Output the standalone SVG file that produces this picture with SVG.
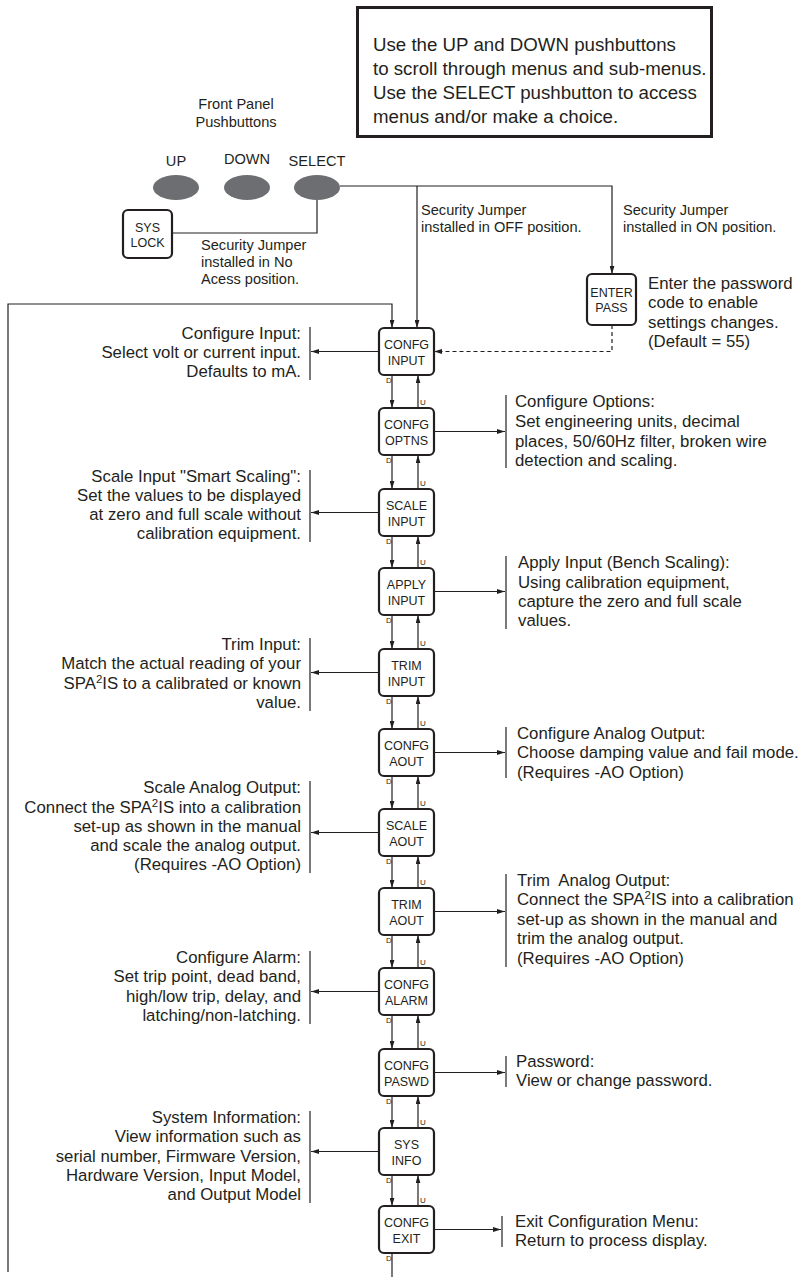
<svg xmlns="http://www.w3.org/2000/svg" width="801" height="1277" viewBox="0 0 801 1277">
<defs>
<marker id="ah" viewBox="0 0 10 6" refX="10" refY="3" markerWidth="8" markerHeight="5" orient="auto" markerUnits="userSpaceOnUse"><path d="M0,0 L10,3 L0,6 z" fill="#231f20"/></marker>
<style>
text{font-family:"Liberation Sans",Arial,sans-serif;fill:#231f20}
.t{font-size:16.8px}
.j{font-size:14.6px}
.n{font-size:12.5px;text-anchor:middle}
.du{font-size:8px}
.big{font-size:18.7px}
.l{text-anchor:end}
.box{fill:#fff;stroke:#231f20;stroke-width:2.2}
.c{fill:none;stroke:#231f20;stroke-width:1.2}
.ca{fill:none;stroke:#231f20;stroke-width:1.2;marker-end:url(#ah)}
.bar{stroke:#231f20;stroke-width:1.2}
.btn{fill:#6d6e71}
</style>
</defs>
<rect x="0" y="0" width="801" height="1277" fill="#fff"/>

<g id="instructions">
<rect x="357.5" y="7.5" width="354" height="129" fill="#fff" stroke="#231f20" stroke-width="3"/>
<text class="big" x="373" y="51">Use the UP and DOWN pushbuttons</text>
<text class="big" x="373" y="75">to scroll through menus and sub-menus.</text>
<text class="big" x="373" y="99">Use the SELECT pushbutton to access</text>
<text class="big" x="373" y="123">menus and/or make a choice.</text>
</g>

<g id="front-panel-label">
<text class="j" x="236" y="109" text-anchor="middle">Front Panel</text>
<text class="j" x="236" y="127" text-anchor="middle">Pushbuttons</text>
</g>

<g id="btn-up"><text class="j" x="176" y="166" text-anchor="middle">UP</text><ellipse class="btn" cx="176" cy="187.5" rx="23" ry="12.5"/></g>
<g id="btn-down"><text class="j" x="247" y="164" text-anchor="middle">DOWN</text><ellipse class="btn" cx="247" cy="187.5" rx="23" ry="12.5"/></g>
<g id="btn-select"><text class="j" x="317" y="166" text-anchor="middle">SELECT</text><ellipse class="btn" cx="317" cy="187.5" rx="23" ry="12.5"/></g>

<g id="connectors">
<path class="c" d="M317,200 V233 H172"/>
<path class="c" d="M340,186 H612 V274" marker-end="url(#ah)"/>
<path class="ca" d="M417,186 V328"/>
<path class="ca" d="M8,1272 V304 H392 V328"/>
<path class="ca" d="M612,325 V351.5 H434" stroke-dasharray="4,3"/>
<!-- down arrows -->
<path class="ca" d="M392,375 V408"/>
<path class="ca" d="M392,455 V489"/>
<path class="ca" d="M392,536 V568"/>
<path class="ca" d="M392,615 V649"/>
<path class="ca" d="M392,696 V729"/>
<path class="ca" d="M392,776 V809"/>
<path class="ca" d="M392,856 V888"/>
<path class="ca" d="M392,935 V968"/>
<path class="ca" d="M392,1015 V1049"/>
<path class="ca" d="M392,1096 V1128"/>
<path class="ca" d="M392,1175 V1206"/>
<path class="c" d="M392,1253 V1277"/>
<!-- up arrows -->
<path class="ca" d="M418,408 V375"/>
<path class="ca" d="M418,489 V455"/>
<path class="ca" d="M418,568 V536"/>
<path class="ca" d="M418,649 V615"/>
<path class="ca" d="M418,729 V696"/>
<path class="ca" d="M418,809 V776"/>
<path class="ca" d="M418,888 V856"/>
<path class="ca" d="M418,968 V935"/>
<path class="ca" d="M418,1049 V1015"/>
<path class="ca" d="M418,1128 V1096"/>
<path class="ca" d="M418,1206 V1175"/>
<!-- left descriptions -->
<path class="ca" d="M379,351.5 H311"/>
<path class="ca" d="M379,512.5 H311"/>
<path class="ca" d="M379,672.5 H311"/>
<path class="ca" d="M379,832.5 H311"/>
<path class="ca" d="M379,991.5 H311"/>
<path class="ca" d="M379,1151.5 H311"/>
<!-- right descriptions -->
<path class="ca" d="M434,431.5 H505"/>
<path class="ca" d="M434,591.5 H505"/>
<path class="ca" d="M434,752.5 H505"/>
<path class="ca" d="M434,911.5 H505"/>
<path class="ca" d="M434,1072.5 H505"/>
<path class="ca" d="M434,1229.5 H501"/>
<!-- D / U labels -->
<g class="du">
<text class="du" x="386" y="383">D</text><text class="du" x="420" y="405">U</text>
<text class="du" x="386" y="463">D</text><text class="du" x="420" y="486">U</text>
<text class="du" x="386" y="544">D</text><text class="du" x="420" y="565">U</text>
<text class="du" x="386" y="623">D</text><text class="du" x="420" y="646">U</text>
<text class="du" x="386" y="704">D</text><text class="du" x="420" y="726">U</text>
<text class="du" x="386" y="784">D</text><text class="du" x="420" y="806">U</text>
<text class="du" x="386" y="864">D</text><text class="du" x="420" y="885">U</text>
<text class="du" x="386" y="943">D</text><text class="du" x="420" y="965">U</text>
<text class="du" x="386" y="1023">D</text><text class="du" x="420" y="1046">U</text>
<text class="du" x="386" y="1104">D</text><text class="du" x="420" y="1125">U</text>
<text class="du" x="386" y="1183">D</text><text class="du" x="420" y="1203">U</text>
<text class="du" x="386" y="1261">D</text>
</g>
</g>

<g id="jumper-labels">
<text class="j" x="201" y="250">Security Jumper</text>
<text class="j" x="201" y="267">installed in No</text>
<text class="j" x="201" y="284">Acess position.</text>
<text class="j" x="421" y="215">Security Jumper</text>
<text class="j" x="421" y="232">installed in OFF position.</text>
<text class="j" x="623" y="215">Security Jumper</text>
<text class="j" x="623" y="232">installed in ON position.</text>
</g>

<g id="sys-lock"><rect class="box" x="123" y="210" width="49" height="48" rx="5"/><text class="n" x="147.5" y="232">SYS</text><text class="n" x="147.5" y="247">LOCK</text></g>
<g id="enter-pass"><rect class="box" x="587" y="274" width="49" height="51" rx="5"/><text class="n" x="611.5" y="297">ENTER</text><text class="n" x="611.5" y="312">PASS</text></g>
<g id="enter-pass-note">
<text class="t" x="648" y="289">Enter the password</text>
<text class="t" x="648" y="308">code to enable</text>
<text class="t" x="648" y="328">settings changes.</text>
<text class="t" x="648" y="347">(Default = 55)</text>
</g>

<g id="confg-input"><rect class="box" x="379" y="328" width="55" height="47" rx="5"/><text class="n" x="406.5" y="349">CONFG</text><text class="n" x="406.5" y="365">INPUT</text></g>
<g id="confg-optns"><rect class="box" x="379" y="408" width="55" height="47" rx="5"/><text class="n" x="406.5" y="429">CONFG</text><text class="n" x="406.5" y="445">OPTNS</text></g>
<g id="scale-input"><rect class="box" x="379" y="489" width="55" height="47" rx="5"/><text class="n" x="406.5" y="510">SCALE</text><text class="n" x="406.5" y="526">INPUT</text></g>
<g id="apply-input"><rect class="box" x="379" y="568" width="55" height="47" rx="5"/><text class="n" x="406.5" y="589">APPLY</text><text class="n" x="406.5" y="605">INPUT</text></g>
<g id="trim-input"><rect class="box" x="379" y="649" width="55" height="47" rx="5"/><text class="n" x="406.5" y="670">TRIM</text><text class="n" x="406.5" y="686">INPUT</text></g>
<g id="confg-aout"><rect class="box" x="379" y="729" width="55" height="47" rx="5"/><text class="n" x="406.5" y="750">CONFG</text><text class="n" x="406.5" y="766">AOUT</text></g>
<g id="scale-aout"><rect class="box" x="379" y="809" width="55" height="47" rx="5"/><text class="n" x="406.5" y="830">SCALE</text><text class="n" x="406.5" y="846">AOUT</text></g>
<g id="trim-aout"><rect class="box" x="379" y="888" width="55" height="47" rx="5"/><text class="n" x="406.5" y="909">TRIM</text><text class="n" x="406.5" y="925">AOUT</text></g>
<g id="confg-alarm"><rect class="box" x="379" y="968" width="55" height="47" rx="5"/><text class="n" x="406.5" y="989">CONFG</text><text class="n" x="406.5" y="1005">ALARM</text></g>
<g id="confg-paswd"><rect class="box" x="379" y="1049" width="55" height="47" rx="5"/><text class="n" x="406.5" y="1070">CONFG</text><text class="n" x="406.5" y="1086">PASWD</text></g>
<g id="sys-info"><rect class="box" x="379" y="1128" width="55" height="47" rx="5"/><text class="n" x="406.5" y="1149">SYS</text><text class="n" x="406.5" y="1165">INFO</text></g>
<g id="confg-exit"><rect class="box" x="379" y="1206" width="55" height="47" rx="5"/><text class="n" x="406.5" y="1227">CONFG</text><text class="n" x="406.5" y="1243">EXIT</text></g>

<g id="desc-configure-input">
<line class="bar" x1="310" y1="327" x2="310" y2="380"/>
<text class="t l" x="301" y="339">Configure Input:</text>
<text class="t l" x="301" y="358">Select volt or current input.</text>
<text class="t l" x="301" y="377">Defaults to mA.</text>
</g>
<g id="desc-scale-input">
<line class="bar" x1="310" y1="470" x2="310" y2="542"/>
<text class="t l" x="301" y="482">Scale Input "Smart Scaling":</text>
<text class="t l" x="301" y="501">Set the values to be displayed</text>
<text class="t l" x="301" y="520">at zero and full scale without</text>
<text class="t l" x="301" y="539">calibration equipment.</text>
</g>
<g id="desc-trim-input">
<line class="bar" x1="310" y1="638" x2="310" y2="711"/>
<text class="t l" x="301" y="650">Trim Input:</text>
<text class="t l" x="301" y="669">Match the actual reading of your</text>
<text class="t l" x="301" y="689">SPA<tspan font-size="11.5" dy="-6">2</tspan><tspan dy="6">IS to a calibrated or known</tspan></text>
<text class="t l" x="301" y="708">value.</text>
</g>
<g id="desc-scale-aout">
<line class="bar" x1="310" y1="781" x2="310" y2="873"/>
<text class="t l" x="301" y="793">Scale Analog Output:</text>
<text class="t l" x="301" y="813">Connect the SPA<tspan font-size="11.5" dy="-6">2</tspan><tspan dy="6">IS into a calibration</tspan></text>
<text class="t l" x="301" y="832">set-up as shown in the manual</text>
<text class="t l" x="301" y="851">and scale the analog output.</text>
<text class="t l" x="301" y="870">(Requires -AO Option)</text>
</g>
<g id="desc-configure-alarm">
<line class="bar" x1="310" y1="951" x2="310" y2="1024"/>
<text class="t l" x="301" y="963">Configure Alarm:</text>
<text class="t l" x="301" y="982">Set trip point, dead band,</text>
<text class="t l" x="301" y="1002">high/low trip, delay, and</text>
<text class="t l" x="301" y="1021">latching/non-latching.</text>
</g>
<g id="desc-system-info">
<line class="bar" x1="310" y1="1111" x2="310" y2="1203"/>
<text class="t l" x="301" y="1123">System Information:</text>
<text class="t l" x="301" y="1142">View information such as</text>
<text class="t l" x="301" y="1162">serial number, Firmware Version,</text>
<text class="t l" x="301" y="1181">Hardware Version, Input Model,</text>
<text class="t l" x="301" y="1200">and Output Model</text>
</g>

<g id="desc-configure-options">
<line class="bar" x1="506" y1="395" x2="506" y2="468"/>
<text class="t" x="515" y="407">Configure Options:</text>
<text class="t" x="515" y="427">Set engineering units, decimal</text>
<text class="t" x="515" y="447">places, 50/60Hz filter, broken wire</text>
<text class="t" x="515" y="466">detection and scaling.</text>
</g>
<g id="desc-apply-input">
<line class="bar" x1="506" y1="556" x2="506" y2="629"/>
<text class="t" x="518" y="568">Apply Input (Bench Scaling):</text>
<text class="t" x="518" y="588">Using calibration equipment,</text>
<text class="t" x="518" y="607">capture the zero and full scale</text>
<text class="t" x="518" y="626">values.</text>
</g>
<g id="desc-configure-aout">
<line class="bar" x1="506" y1="727" x2="506" y2="778"/>
<text class="t" x="517" y="739">Configure Analog Output:</text>
<text class="t" x="517" y="758">Choose damping value and fail mode.</text>
<text class="t" x="517" y="778">(Requires -AO Option)</text>
</g>
<g id="desc-trim-aout">
<line class="bar" x1="506" y1="874" x2="506" y2="967"/>
<text class="t" x="517" y="886" xml:space="preserve">Trim  Analog Output:</text>
<text class="t" x="517" y="905">Connect the SPA<tspan font-size="11.5" dy="-6">2</tspan><tspan dy="6">IS into a calibration</tspan></text>
<text class="t" x="517" y="925">set-up as shown in the manual and</text>
<text class="t" x="517" y="944">trim the analog output.</text>
<text class="t" x="517" y="964">(Requires -AO Option)</text>
</g>
<g id="desc-password">
<line class="bar" x1="506" y1="1056" x2="506" y2="1087"/>
<text class="t" x="516" y="1067">Password:</text>
<text class="t" x="516" y="1086">View or change password.</text>
</g>
<g id="desc-exit">
<line class="bar" x1="502" y1="1216" x2="502" y2="1247"/>
<text class="t" x="515" y="1227">Exit Configuration Menu:</text>
<text class="t" x="515" y="1246">Return to process display.</text>
</g>
</svg>
